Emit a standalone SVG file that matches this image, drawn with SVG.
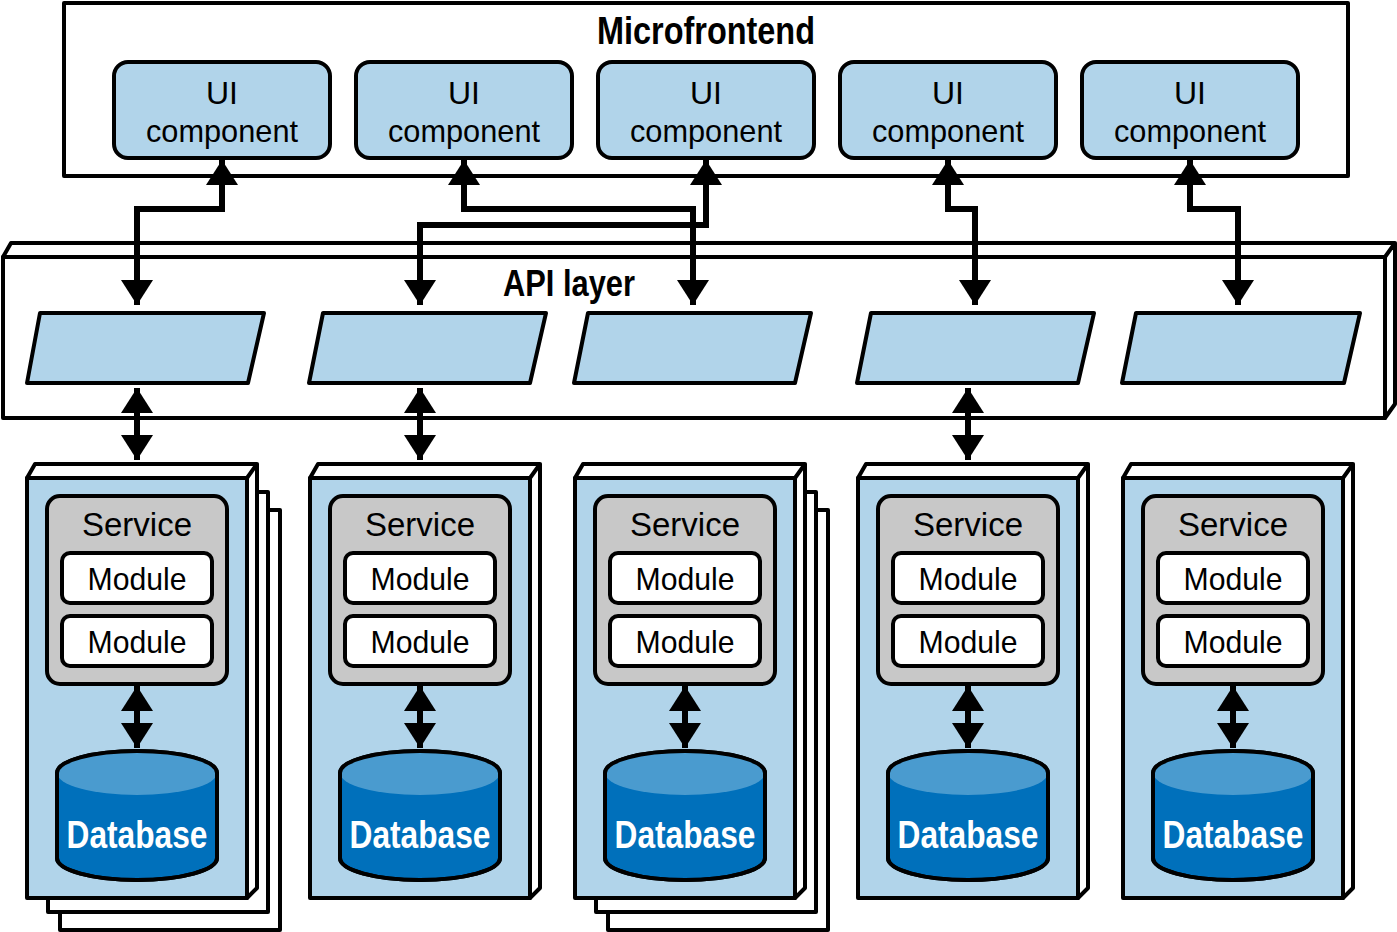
<svg xmlns="http://www.w3.org/2000/svg" width="1397" height="932" viewBox="0 0 1397 932">
<style>
.k{stroke:#000;stroke-width:4;stroke-linejoin:round}
.ln{fill:none;stroke:#000;stroke-width:6}
.t{font-family:"Liberation Sans",Arial,sans-serif;text-anchor:middle}
.ui{fill:#b1d4ea}
</style>
<defs>
<marker id="ah" markerUnits="userSpaceOnUse" markerWidth="26" markerHeight="32" refX="25" refY="16" orient="auto-start-reverse" viewBox="0 0 26 32"><path d="M0,0 L25,16 L0,32 Z" fill="#000"/></marker>
<g id="col">
<rect x="0" y="0" width="220" height="420" class="k ui"/>
<path d="M0,0 L8,-14 L230,-14 L220,0 Z M220,0 L230,-14 L230,410 L220,420 Z" class="k" fill="#fff"/>
<rect x="20" y="18" width="180" height="188" rx="13" class="k" fill="#c8c8c8"/>
<text x="110" y="58" class="t" font-size="34" textLength="110" lengthAdjust="spacingAndGlyphs">Service</text>
<rect x="35" y="75" width="150" height="50" rx="8" class="k" fill="#fff"/>
<rect x="35" y="138" width="150" height="50" rx="8" class="k" fill="#fff"/>
<text x="110" y="112" class="t" font-size="32" textLength="99" lengthAdjust="spacingAndGlyphs">Module</text>
<text x="110" y="175" class="t" font-size="32" textLength="99" lengthAdjust="spacingAndGlyphs">Module</text>
<path d="M30,295 A80,22 0 0 1 190,295 L190,380 A80,22 0 0 1 30,380 Z" class="k" fill="#0070bb"/>
<path d="M30,295 A80,22 0 0 1 190,295 A80,22 0 0 1 30,295 Z" fill="#4a9bcf"/>
<path d="M30,295 A80,22 0 0 1 190,295 L190,380 A80,22 0 0 1 30,380 Z" class="k" fill="none"/>
<text x="110" y="370" class="t" font-size="38" font-weight="bold" fill="#fff" textLength="141" lengthAdjust="spacingAndGlyphs">Database</text>
<path d="M110,208 L110,270" class="ln" marker-start="url(#ah)" marker-end="url(#ah)"/>
</g>
<g id="stack">
<rect x="33" y="46" width="220" height="420" class="k" fill="#fff"/>
<rect x="21" y="28" width="220" height="420" class="k" fill="#fff"/>
</g>
</defs>
<g id="microfrontend">
<rect x="64" y="3" width="1284" height="173" class="k" fill="#fff"/>
<text x="706" y="44" class="t" font-size="38" font-weight="bold" textLength="218" lengthAdjust="spacingAndGlyphs">Microfrontend</text>
</g>
<g id="ui-components">
<g id="ui1"><rect x="114" y="62" width="216" height="96" rx="14" class="k ui"/><text x="222" y="104" class="t" font-size="32">UI</text><text x="222" y="142" class="t" font-size="32" textLength="152" lengthAdjust="spacingAndGlyphs">component</text></g>
<g id="ui2"><rect x="356" y="62" width="216" height="96" rx="14" class="k ui"/><text x="464" y="104" class="t" font-size="32">UI</text><text x="464" y="142" class="t" font-size="32" textLength="152" lengthAdjust="spacingAndGlyphs">component</text></g>
<g id="ui3"><rect x="598" y="62" width="216" height="96" rx="14" class="k ui"/><text x="706" y="104" class="t" font-size="32">UI</text><text x="706" y="142" class="t" font-size="32" textLength="152" lengthAdjust="spacingAndGlyphs">component</text></g>
<g id="ui4"><rect x="840" y="62" width="216" height="96" rx="14" class="k ui"/><text x="948" y="104" class="t" font-size="32">UI</text><text x="948" y="142" class="t" font-size="32" textLength="152" lengthAdjust="spacingAndGlyphs">component</text></g>
<g id="ui5"><rect x="1082" y="62" width="216" height="96" rx="14" class="k ui"/><text x="1190" y="104" class="t" font-size="32">UI</text><text x="1190" y="142" class="t" font-size="32" textLength="152" lengthAdjust="spacingAndGlyphs">component</text></g>
</g>
<g id="api-layer">
<rect x="3" y="257" width="1382" height="161" class="k" fill="#fff"/>
<path d="M3,257 L11,243 L1395,243 L1385,257 Z M1385,257 L1395,243 L1395,404 L1385,418 Z" class="k" fill="#fff"/>
<text x="569" y="296" class="t" font-size="36" font-weight="bold" textLength="132" lengthAdjust="spacingAndGlyphs">API layer</text>
<g id="api1"><path d="M40,313 L264,313 L248,383 L27,383 Z" class="k ui"/></g>
<g id="api2"><path d="M323,313 L546,313 L530,383 L309,383 Z" class="k ui"/></g>
<g id="api3"><path d="M588,313 L811,313 L795,383 L574,383 Z" class="k ui"/></g>
<g id="api4"><path d="M871,313 L1094,313 L1078,383 L857,383 Z" class="k ui"/></g>
<g id="api5"><path d="M1136,313 L1360,313 L1344,383 L1122,383 Z" class="k ui"/></g>
</g>
<g id="service1"><use href="#stack" x="27" y="464"/><use href="#col" x="27" y="478"/></g>
<g id="service2"><use href="#col" x="310" y="478"/></g>
<g id="service3"><use href="#stack" x="575" y="464"/><use href="#col" x="575" y="478"/></g>
<g id="service4"><use href="#col" x="858" y="478"/></g>
<g id="service5"><use href="#col" x="1123" y="478"/></g>
<g id="connectors">
<path d="M222,160 L222,209 L137,209 L137,305" class="ln" marker-start="url(#ah)" marker-end="url(#ah)"/>
<path d="M464,160 L464,209 L693,209 L693,305" class="ln" marker-start="url(#ah)" marker-end="url(#ah)"/>
<path d="M706,160 L706,225 L420,225 L420,305" class="ln" marker-start="url(#ah)" marker-end="url(#ah)"/>
<path d="M948,160 L948,209 L975,209 L975,305" class="ln" marker-start="url(#ah)" marker-end="url(#ah)"/>
<path d="M1190,160 L1190,209 L1238,209 L1238,305" class="ln" marker-start="url(#ah)" marker-end="url(#ah)"/>
<path d="M137,388 L137,460" class="ln" marker-start="url(#ah)" marker-end="url(#ah)"/>
<path d="M420,388 L420,460" class="ln" marker-start="url(#ah)" marker-end="url(#ah)"/>
<path d="M968,388 L968,460" class="ln" marker-start="url(#ah)" marker-end="url(#ah)"/>
</g>
</svg>
